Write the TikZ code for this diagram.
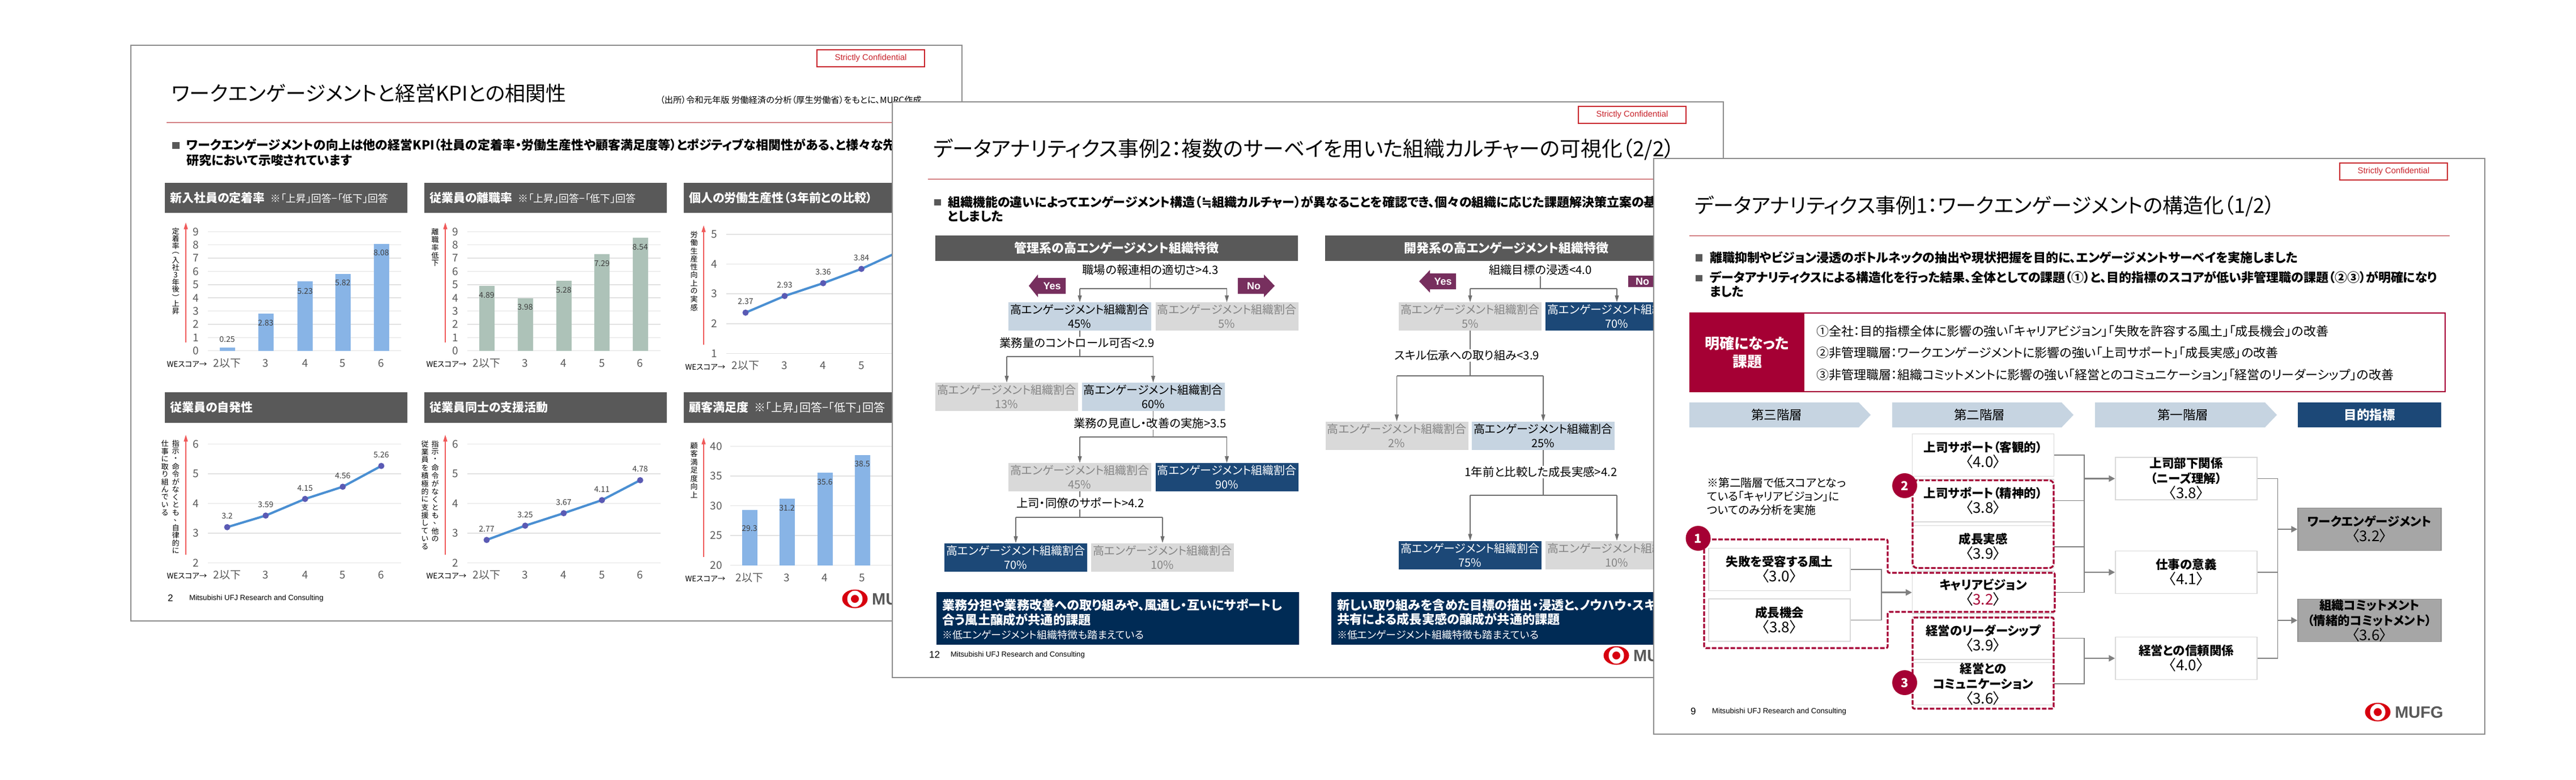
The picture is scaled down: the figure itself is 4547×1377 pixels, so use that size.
\documentclass[tikz,border=0pt]{standalone}
\usepackage{graphicx}
\usepackage{fontspec}
\setmainfont{Noto Sans CJK JP}[RawFeature=+palt]
\newfontfamily\arialf{Liberation Sans}
\newfontfamily\djv{DejaVu Sans}
\usetikzlibrary{arrows.meta,calc}
\definecolor{framegray}{HTML}{8C8C8C}
\definecolor{hdgray}{HTML}{595959}
\definecolor{gridc}{HTML}{E2E2E2}
\definecolor{confred}{HTML}{C8242C}
\definecolor{rulered}{HTML}{B5282E}
\definecolor{axred}{HTML}{F05A5A}
\definecolor{barblue}{HTML}{88B4E6}
\definecolor{bargreen}{HTML}{ADC2B8}
\definecolor{lineblue}{HTML}{4A8FD2}
\definecolor{markc}{HTML}{5A5AB4}
\definecolor{wine}{HTML}{772F5E}
\definecolor{boxlight}{HTML}{C6D4E1}
\definecolor{boxg}{HTML}{D9D9D9}
\definecolor{boxd}{HTML}{1C4877}
\definecolor{navy}{HTML}{002B55}
\definecolor{ured}{HTML}{A50034}
\definecolor{mured}{HTML}{D7000F}
\definecolor{conn}{HTML}{6E6E6E}
\newcommand\fpx[1]{\fontsize{#1}{#1}\selectfont}
\newcommand\fpb[2]{\fontsize{#1}{#2}\selectfont}
\newcommand\scr[1]{{\mdseries\fpb{26}{27}〈#1〉}}
\newdimen\vtp
\def\vtloop#1{\ifx#1\relax\else\vbox to \vtp{\vss\hbox to 1em{\hss#1\hss}\vss}\expandafter\vtloop\fi}
\newcommand\vt[2]{\vtp=#1pt\relax\vbox{\offinterlineskip\vtloop#2\relax}}
\newcommand\vl{\rotatebox[origin=c]{-90}{（}}
\newcommand\vr{\rotatebox[origin=c]{-90}{）}}
\tikzset{
 x=1pt,y=-1pt,
 frame/.style={fill=white,draw=framegray,line width=2.5pt},
 conf/.style={draw=confred,line width=1.5pt,minimum width=190pt,minimum height=30pt,inner sep=0pt,text=confred,font=\arialf\fpx{14.8}},
 ttl/.style={anchor=west,inner sep=0pt,font=\fpx{36},text=black},
 foot/.style={anchor=west,inner sep=0pt,font=\arialf\fpx{13.1},text=black},
 pageno/.style={anchor=west,inner sep=0pt,font=\arialf\fpx{17},text=black},
 mufg/.style={anchor=west,inner sep=0pt,font=\arialf\bfseries\fpx{29},text=hdgray},
 bullet/.style={anchor=north west,inner sep=0pt,align=left,font=\bfseries\fpb{22}{#1},text=black},
 bullet/.default=26,
 hdr/.style={anchor=north west,fill=hdgray,minimum width=428pt,inner sep=0pt},
 hdrt/.style={anchor=west,inner sep=0pt,text=white,font=\bfseries\fpx{21}},
 gridl/.style={draw=gridc,line width=1.5pt},
 ylab/.style={inner sep=0pt,text=hdgray,font=\fpx{19}},
 tick/.style={inner sep=0pt,text=hdgray,font=\fpx{19}},
 wes/.style={inner sep=0pt,text=black,font=\fpx{13.5}},
 vlab/.style={inner sep=0pt,text=black!75,font=\fpx{14}},
 axarrow/.style={draw=axred,line width=1.5pt,-{Triangle[length=12pt,width=7pt]}},
 vtxt/.style={anchor=north,inner sep=0pt,text=black,font=\fpx{13}},
 shdr/.style={fill=hdgray,inner sep=0pt,minimum width=640pt,minimum height=45pt,text=white,font=\bfseries\fpx{22}},
 tbox/.style={inner sep=0pt,minimum width=252pt,minimum height=50pt,align=center,font=\fpb{20}{25}},
 tgray/.style={tbox,fill=boxg,text=black!48},
 tlight/.style={tbox,fill=boxlight,text=black},
 tdark/.style={tbox,fill=boxd,text=white},
 qt/.style={inner sep=1.5pt,fill=white,text=black,font=\fpx{20.4}},
 cl/.style={draw=conn,line width=1.2pt},
 clbus/.style={draw=conn,line width=2pt},
 cla/.style={draw=conn,line width=1.2pt,-{Triangle[length=12pt,width=7pt]}},
 yn/.style={inner sep=0pt,text=white,font=\arialf\bfseries\fpx{18}},
 nav/.style={anchor=north west,fill=navy,inner sep=0pt,minimum width=640pt,minimum height=93pt},
 navt/.style={anchor=north west,inner sep=0pt,align=left,text=white,font=\fpb{22.2}{25.5}},
 chev/.style={fill=boxlight},
 chevt/.style={inner sep=0pt,text=black,font=\fpx{22.5}},
 nbox/.style={draw=black!15,line width=1.5pt,fill=white,inner sep=0pt,minimum width=250pt,minimum height=75pt,align=center,font=\bfseries\fpb{21.5}{27},text=black},
 gbox/.style={nbox,fill=black!35,draw=black!45,minimum width=253pt},
 nl/.style={draw=black!50,line width=1.5pt},
 na/.style={draw=black!50,line width=2.5pt,-{Triangle[length=11pt,width=11pt]}},
 dash1/.style={draw=ured,line width=3.2pt,dash pattern=on 8pt off 3pt,rounded corners=3pt},
 circ/.style={circle,fill=ured,inner sep=0pt,minimum size=44pt,text=white,font=\bfseries\fpx{22}},
 kline/.style={anchor=west,inner sep=0pt,font=\fpx{22}},
}
\newcommand\slide[5]{
 \begin{scope}[shift={(#2,#3)}]
  \draw[frame] (0,0) rectangle (1467,1017);
  \node[conf] (conf#1) at (1306,23) {Strictly Confidential};
  \node[ttl] (title#1) at (72,#5) {\slidetitle};
  \draw[rulered,line width=1.5pt] (63,136.5) -- (1405,136.5);
  \node[pageno] (page#1) at (65,977) {#4};
  \node[foot] (foot#1) at (103,977) {Mitsubishi UFJ Research and Consulting};
  \fill[mured] (1278,978) ellipse (22.5 and 16.5);
  \fill[white] (1278,978) ellipse (13.5 and 14.5);
  \fill[mured] (1278,978) circle (7);
  \node[mufg] (mufg#1) at (1308,978) {MUFG};
 \end{scope}
}
\newcommand\gridy[8]{
 \foreach \v [count=\i] in {#8}{
  \pgfmathsetmacro\yy{#5-(\v-#7)*#6}
  \draw[gridl] (#2,\yy) -- (#3,\yy);
  \node[ylab] (#1y\i) at (#4,\yy) {\v};
 }}
\newcommand\bars[6]{
 \foreach \xx/\v/\o [count=\i] in {#6}{
  \pgfmathsetmacro\yy{#2-(\v-#4)*#3}
  \pgfmathsetmacro\ly{\yy+\o}
  \fill[#5] (\xx-13.5,#2) rectangle (\xx+13.5,\yy);
  \node[vlab] (#1v\i) at (\xx,\ly) {\v};
 }}
\newcommand\linech[5]{
 \foreach \xx/\v [count=\i] in {#5}{
  \pgfmathsetmacro\yy{#2-(\v-#4)*#3}
  \coordinate (#1p\i) at (\xx,\yy);
 }
 \foreach \i [remember=\i as \j (initially 1)] in {2,3,4,5}{
  \draw[lineblue,line width=4pt] (#1p\j) -- (#1p\i);
 }
 \foreach \xx/\v [count=\i] in {#5}{
  \fill[markc] (#1p\i) circle (5.5);
  \node[vlab,above=14pt] (#1v\i) at (#1p\i) {\v};
 }}
\newcommand\ticks[9]{
 \node[wes] (#1w) at (#3,#4) {WEスコア→};
 \node[tick] (#1t1) at (#5,#2) {2以下};
 \node[tick] (#1t2) at (#6,#2) {3};
 \node[tick] (#1t3) at (#7,#2) {4};
 \node[tick] (#1t4) at (#8,#2) {5};
 \node[tick] (#1t5) at (#9,#2) {6};
}
\newcommand\tsplit[4]{
 \draw[cl] (#1) -- (#1 |- 0,#2);
 \draw[clbus] (#3.north |- 0,#2) -- (#4.north |- 0,#2);
 \draw[cla] (#3.north |- 0,#2) -- (#3.north);
 \draw[cla] (#4.north |- 0,#2) -- (#4.north);
}
\newcommand\slidetitle{}
\begin{document}
\begin{tikzpicture}
\useasboundingbox (0,0) rectangle (4547,1377);
\fill[white] (0,0) rectangle (4547,1377);
%% ---------- slide 1
\renewcommand\slidetitle{ワークエンゲージメントと経営KPIとの相関性}
\slide{a}{231}{80}{2}{85}
\node[anchor=west,inner sep=0pt,font=\fpx{15.3}] (srca) at (1165,177) {（出所）令和元年版 労働経済の分析（厚生労働省）をもとに、MURC作成};
\fill[hdgray] (304,251) rectangle (317,263);
\node[bullet=27] (bula) at (329,245) {ワークエンゲージメントの向上は他の経営KPI（社員の定着率・労働生産性や顧客満足度等）とポジティブな相関性がある、と様々な先行\\研究において示唆されています};
\foreach \nm/\xx/\yy/\hh in {h1/291/323/53,h2/749/323/53,h3/1207/323/53,h4/291/693/54,h5/749/693/54,h6/1207/693/54}{
 \node[hdr,minimum height=\hh pt] (\nm) at (\xx,\yy) {};
}
\node[hdrt] (h1t) at (300,349.5) {新入社員の定着率\hspace{10pt}{\mdseries\fpx{18}※「上昇」回答−「低下」回答}};
\node[hdrt] (h2t) at (758,349.5) {従業員の離職率\hspace{10pt}{\mdseries\fpx{18}※「上昇」回答−「低下」回答}};
\node[hdrt] (h3t) at (1216,349.5) {個人の労働生産性（3年前との比較）};
\node[hdrt] (h4t) at (300,720) {従業員の自発性};
\node[hdrt] (h5t) at (758,720) {従業員同士の支援活動};
\node[hdrt] (h6t) at (1216,720) {顧客満足度\hspace{10pt}{\mdseries\fpx{20}※「上昇」回答−「低下」回答}};
% chart 1
\gridy{c1}{367}{708}{345.5}{619.7}{23.37}{0}{0,1,2,3,4,5,6,7,8,9}
\bars{c1}{619.7}{23.37}{0}{barblue}{401/0.25/-14,469/2.83/17,538.5/5.23/17,605/5.82/16,673/8.08/16}
\coordinate (c1a0) at (328,605); \coordinate (c1a1) at (328,393);
\draw[axarrow] (c1a0) -- (c1a1);
\node[vtxt] (c1l) at (310,402) {\vt{12.8}{定着率\vl 入社3年後\vr 上昇}};
\ticks{c1}{642}{330}{644}{401}{469}{538.5}{605}{673}
% chart 2
\gridy{c2}{825}{1166}{803.5}{619.7}{23.37}{0}{0,1,2,3,4,5,6,7,8,9}
\bars{c2}{619.7}{23.37}{0}{bargreen}{859/4.89/16,927/3.98/16,995/5.28/16,1062.5/7.29/16,1130/8.54/16}
\coordinate (c2a0) at (786,605); \coordinate (c2a1) at (786,393);
\draw[axarrow] (c2a0) -- (c2a1);
\node[vtxt] (c2l) at (768,402) {\vt{14}{離職率低下}};
\ticks{c2}{642}{788}{644}{859}{927}{995}{1062.5}{1130}
% chart 3
\gridy{c3}{1282}{1640}{1261}{624.4}{52.6}{1}{1,2,3,4,5}
\linech{c3}{624.4}{52.6}{1}{1316/2.37,1385/2.93,1453/3.36,1520.5/3.84,1588/4.43}
\coordinate (c3a0) at (1242,609); \coordinate (c3a1) at (1242,398);
\draw[axarrow] (c3a0) -- (c3a1);
\node[vtxt] (c3l) at (1225,407) {\vt{14.3}{労働生産性向上の実感}};
\ticks{c3}{646}{1245}{649}{1316}{1385}{1453}{1520.5}{1588}
% chart 4
\gridy{c4}{367}{708}{345.5}{994.3}{52.5}{2}{2,3,4,5,6}
\linech{c4}{994.3}{52.5}{2}{401/3.2,469/3.59,538.5/4.15,605/4.56,673/5.26}
\coordinate (c4a0) at (328,980); \coordinate (c4a1) at (328,768);
\draw[axarrow] (c4a0) -- (c4a1);
\node[vtxt] (c4l) at (310,777) {\vt{13.5}{指示・命令がなくとも、自律的に}};
\node[vtxt] (c4m) at (291,777) {\vt{13.5}{仕事に取り組んでいる}};
\ticks{c4}{1016}{330}{1018}{401}{469}{538.5}{605}{673}
% chart 5
\gridy{c5}{825}{1166}{803.5}{994.3}{52.5}{2}{2,3,4,5,6}
\linech{c5}{994.3}{52.5}{2}{859/2.77,927/3.25,995/3.67,1062.5/4.11,1130/4.78}
\coordinate (c5a0) at (786,980); \coordinate (c5a1) at (786,768);
\draw[axarrow] (c5a0) -- (c5a1);
\node[vtxt] (c5l) at (768,777) {\vt{14}{指示・命令がなくとも、他の}};
\node[vtxt] (c5m) at (750,777) {\vt{14}{従業員を積極的に支援している}};
\ticks{c5}{1016}{788}{1018}{859}{927}{995}{1062.5}{1130}
% chart 6
\gridy{c6}{1289}{1640}{1264}{998.7}{10.5}{20}{20,25,30,35,40}
\bars{c6}{998.7}{10.5}{20}{barblue}{1323/29.3/32,1389/31.2/16,1456/35.6/17,1522/38.5/15,1589/41/15}
\coordinate (c6a0) at (1242,984); \coordinate (c6a1) at (1242,773);
\draw[axarrow] (c6a0) -- (c6a1);
\node[vtxt] (c6l) at (1225,780) {\vt{14.5}{顧客満足度向上}};
\ticks{c6}{1021}{1245}{1023}{1323}{1389}{1456}{1522}{1589}
%% ---------- slide 2
\renewcommand\slidetitle{{\fpx{36.8}データアナリティクス事例2：複数のサーベイを用いた組織カルチャーの可視化（2/2）}}
\slide{b}{1575}{180}{12}{84}
\fill[hdgray] (1649,352) rectangle (1661,363);
\node[bullet=25] (bulb) at (1673,346) {組織機能の違いによってエンゲージメント構造（{\djv ≒}組織カルチャー）が異なることを確認でき、個々の組織に応じた課題解決策立案の基礎\\としました};
\node[shdr] (sh1) at (1971,438.5) {管理系の高エンゲージメント組織特徴};
\node[shdr] (sh2) at (2659,438.5) {開発系の高エンゲージメント組織特徴};
% tree 1 boxes
\newcommand\tl{高エンゲージメント組織割合}
\node[tlight] (ta) at (1906,559) {\tl\\45\%};
\node[tgray] (tb) at (2165.5,559) {\tl\\5\%};
\node[tgray] (tc) at (1777,701) {\tl\\13\%};
\node[tlight] (td) at (2035.5,701) {\tl\\60\%};
\node[tgray] (te) at (1906,843) {\tl\\45\%};
\node[tdark] (tf) at (2165.5,843) {\tl\\90\%};
\node[tdark] (tg) at (1793,984.5) {\tl\\70\%};
\node[tgray] (th) at (2052,984.5) {\tl\\10\%};
\node[qt] (q1) at (2030.5,477) {職場の報連相の適切さ>4.3};
\tsplit{q1.south}{510}{ta}{tb}
\tsplit{ta.south}{630}{tc}{td}
\node[qt] (q2) at (1901,606) {業務量のコントロール可否<2.9};
\tsplit{td.south}{771.5}{te}{tf}
\node[qt] (q3) at (2030,748) {業務の見直し・改善の実施>3.5};
\tsplit{te.south}{913.5}{tg}{th}
\node[qt] (q4) at (1907,889) {上司・同僚のサポート>4.2};
% yes/no
\fill[wine] (1816,505) -- (1832,485) -- (1832,491) -- (1881,491) -- (1881,519) -- (1832,519) -- (1832,525) -- cycle;
\node[yn] (yes1) at (1857,505) {Yes};
\fill[wine] (2250,505) -- (2231,485) -- (2231,491) -- (2185,491) -- (2185,519) -- (2231,519) -- (2231,525) -- cycle;
\node[yn] (no1) at (2213,505) {No};
% tree 2
\node[tgray] (ua) at (2595,559) {\tl\\5\%};
\node[tdark] (ub) at (2854,559) {\tl\\70\%};
\node[tgray] (uc) at (2465.5,769.5) {\tl\\2\%};
\node[tlight] (ud) at (2724,769.5) {\tl\\25\%};
\node[tdark] (ue) at (2595,980.5) {\tl\\75\%};
\node[tgray] (uf) at (2854,980.5) {\tl\\10\%};
\node[qt] (r1) at (2719,477) {組織目標の浸透<4.0};
\tsplit{r1.south}{510}{ua}{ub}
\tsplit{ua.south}{664}{uc}{ud}
\node[qt] (r2) at (2589.5,628) {スキル伝承への取り組み<3.9};
\tsplit{ud.south}{875}{ue}{uf}
\node[qt] (r3) at (2720,834) {1年前と比較した成長実感>4.2};
\fill[wine] (2505,497) -- (2524,477) -- (2524,483) -- (2570,483) -- (2570,511) -- (2524,511) -- (2524,517) -- cycle;
\node[yn] (yes2) at (2547,497) {Yes};
\fill[wine] (2939,497) -- (2920,477) -- (2920,487) -- (2874,487) -- (2874,507) -- (2920,507) -- (2920,517) -- cycle;
\node[yn] (no2) at (2899,497) {No};
% bottom
\node[nav] (nv1) at (1653,1046) {};
\node[nav] (nv2) at (2350,1046) {};
\node[navt] (nv1t) at (1663,1058) {{\bfseries 業務分担や業務改善への取り組みや、風通し・互いにサポートし}\\{\bfseries 合う風土醸成が共通的課題}\\{\fpx{18}※低エンゲージメント組織特徴も踏まえている}};
\node[navt] (nv2t) at (2360,1058) {{\bfseries 新しい取り組みを含めた目標の描出・浸透と、ノウハウ・スキル}\\{\bfseries 共有による成長実感の醸成が共通的課題}\\{\fpx{18}※低エンゲージメント組織特徴も踏まえている}};
%% ---------- slide 3
\renewcommand\slidetitle{データアナリティクス事例1：ワークエンゲージメントの構造化（1/2）}
\slide{c}{2919}{280}{9}{84}
\fill[hdgray] (2993,449) rectangle (3005,462);
\node[bullet] (bulc1) at (3018,444) {離職抑制やビジョン浸透のボトルネックの抽出や現状把握を目的に、エンゲージメントサーベイを実施しました};
\fill[hdgray] (2993,486) rectangle (3005,497);
\node[bullet=25] (bulc2) at (3018,479) {データアナリティクスによる構造化を行った結果、全体としての課題（①）と、目的指標のスコアが低い非管理職の課題（②③）が明確になり\\ました};
\draw[ured,line width=1.5pt] (2983,553) rectangle (4316,692);
\node[fill=ured,inner sep=0pt,minimum width=202pt,minimum height=139pt,align=center,text=white,font=\bfseries\fpb{26}{32}] (kadai) at (3084,622.5) {明確になった\\課題};
\node[kline] (k1) at (3206,585) {①全社：目的指標全体に影響の強い「キャリアビジョン」「失敗を許容する風土」「成長機会」の改善};
\node[kline] (k2) at (3206,623) {②非管理職層：ワークエンゲージメントに影響の強い「上司サポート」「成長実感」の改善};
\node[kline] (k3) at (3206,662) {③非管理職層：組織コミットメントに影響の強い「経営とのコミュニケーション」「経営のリーダーシップ」の改善};
\fill[chev] (2982,711) -- (3281,711) -- (3302,733) -- (3281,755) -- (2982,755) -- cycle;
\fill[chev] (3340,711) -- (3639,711) -- (3660,733) -- (3639,755) -- (3340,755) -- cycle;
\fill[chev] (3698,711) -- (3998,711) -- (4019,733) -- (3998,755) -- (3698,755) -- cycle;
\node[chevt] (ch1) at (3136,733) {第三階層};
\node[chevt] (ch2) at (3494,733) {第二階層};
\node[chevt] (ch3) at (3853,733) {第一階層};
\node[fill=boxd,inner sep=0pt,minimum width=253pt,minimum height=44pt,text=white,font=\bfseries\fpx{22.5}] (ch4) at (4182.5,733) {目的指標};
\node[anchor=north west,inner sep=0pt,align=left,font=\fpb{19.9}{24}] (note) at (3013,843) {※第二階層で低スコアとなっ\\ている「キャリアビジョン」に\\ついてのみ分析を実施};
\node[nbox] (a1) at (3141,1006) {失敗を受容する風土\\\scr{3.0}};
\node[nbox] (a2) at (3141,1095.5) {成長機会\\\scr{3.8}};
\node[nbox] (b1) at (3500.5,804) {上司サポート（客観的）\\\scr{4.0}};
\node[nbox] (b2) at (3500.5,884.5) {上司サポート（精神的）\\\scr{3.8}};
\node[nbox] (b3) at (3500.5,966) {成長実感\\\scr{3.9}};
\node[nbox] (b4) at (3500.5,1046.7) {キャリアビジョン\\\scr{\textcolor{ured}{3.2}}};
\node[nbox] (b5) at (3500.5,1127.5) {経営のリーダーシップ\\\scr{3.9}};
\node[nbox] (b6) at (3500.5,1208) {経営との\\コミュニケーション\\\scr{3.6}};
\node[nbox] (c1b) at (3859,845.5) {上司部下関係\\（ニーズ理解）\\\scr{3.8}};
\node[nbox] (c2b) at (3859,1011) {仕事の意義\\\scr{4.1}};
\node[nbox] (c3b) at (3859,1163) {経営との信頼関係\\\scr{4.0}};
\node[gbox] (d1) at (4182.5,935) {ワークエンゲージメント\\\scr{3.2}};
\node[gbox] (d2) at (4182.5,1096) {組織コミットメント\\（情緒的コミットメント）\\\scr{3.6}};
\coordinate (busa) at (3321,0);
\coordinate (busb) at (3679,0);
\coordinate (busc) at (4020.5,0);
\draw[nl] (a1.east) -- (a1.east -| busa) -- (a2.east -| busa) -- (a2.east);
\draw[na] (busa |- b4.west) -- (b4.west);
\draw[nl] (b1.east) -- (b1.east -| busb) -- (b4.east -| busb) -- (b4.east);
\draw[nl] (b2.east) -- (b2.east -| busb);
\draw[nl] (b3.east) -- (b3.east -| busb);
\draw[na] (busb |- c1b.west) -- (c1b.west);
\draw[na] (busb |- c2b.west) -- (c2b.west);
\draw[nl] (b5.east) -- (b5.east -| busb) -- (b6.east -| busb) -- (b6.east);
\draw[na] (busb |- c3b.west) -- (c3b.west);
\draw[nl] (c1b.east) -- (c1b.east -| busc) -- (c3b.east -| busc) -- (c3b.east);
\draw[nl,line width=2.5pt] (c2b.east) -- (c2b.east -| busc);
\draw[na] (busc |- d1.west) -- (d1.west);
\draw[na] (busc |- d2.west) -- (d2.west);
\draw[dash1] (3008,953) -- (3332,953) -- (3332,1012) -- (3627,1012) -- (3627,1081) -- (3332,1081) -- (3332,1145) -- (3008,1145) -- cycle;
\draw[dash1,rounded corners=8pt] (3376,848.6) rectangle (3625,1003.5);
\draw[dash1] (3376,1091) rectangle (3625,1252);
\node[circ] (n1) at (2997.5,951) {1};
\node[circ] (n2) at (3362,858) {2};
\node[circ] (n3) at (3362,1206) {3};
\end{tikzpicture}
\end{document}
